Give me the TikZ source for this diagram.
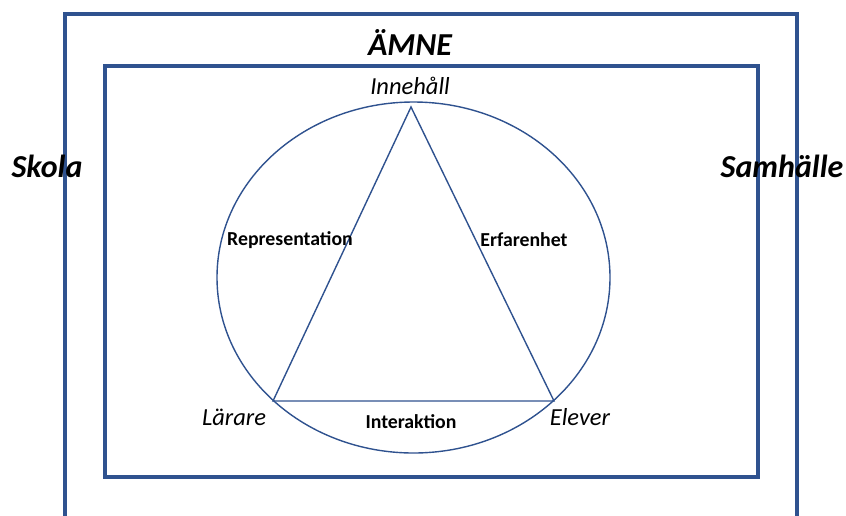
\documentclass[tikz,border=0pt]{standalone}
\usepackage{fontspec}
\setmainfont{Carlito}
\definecolor{frameblue}{HTML}{2F528F}
\begin{document}
\begin{tikzpicture}[x=1pt,y=-1pt,
  frame/.style={draw=frameblue,line width=4.5pt},
  thin/.style={draw=frameblue,line width=1.4pt,line join=miter},
  big/.style={font=\fontsize{32}{36}\selectfont\bfseries\itshape},
  corner/.style={font=\fontsize{24.5}{28}\selectfont\itshape},
  edge/.style={font=\fontsize{19.8}{24}\selectfont\bfseries}]
  \useasboundingbox (0,0) rectangle (846,515);
  % nested frames
  \draw[frame] (65,14) rectangle (797,540);
  \draw[frame] (105,66) rectangle (758,477);
  % ellipse and triangle
  \draw[thin] (413.5,277.5) ellipse [x radius=196.5, y radius=175.5];
  \coordinate (top) at (411,107);
  \coordinate (left) at (273,401);
  \coordinate (right) at (554,401);
  \draw[thin] (top) -- (right) -- (left) -- cycle;
  % labels
  \node[big] (amne) at (410,42) {ÄMNE};
  \node[big] (skola) at (47,166) {Skola};
  \node[big] (samh) at (782,166) {Samhälle};
  \node[corner] (inne) at (410,86) {Innehåll};
  \node[corner] (lar) at (234,417) {Lärare};
  \node[corner] (elev) at (580,417) {Elever};
  \node[edge] (rep) at (290,240) {Representation};
  \node[edge] (erf) at (524,240) {Erfarenhet};
  \node[edge] (int) at (411,422) {Interaktion};
\end{tikzpicture}
\end{document}
